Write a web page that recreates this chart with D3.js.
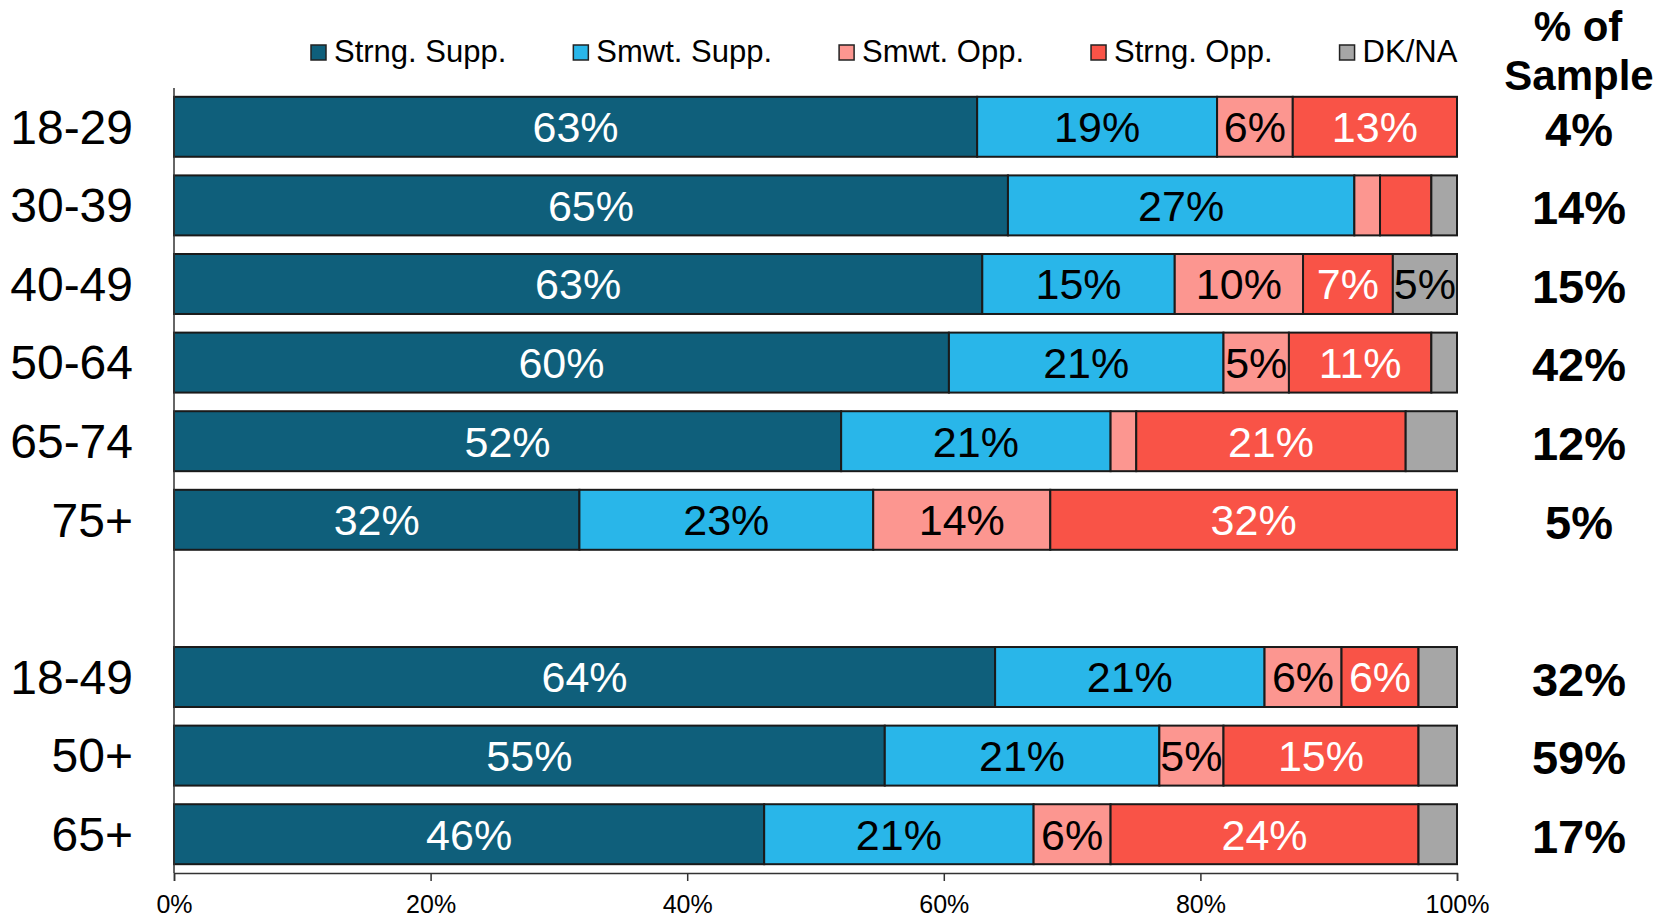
<!DOCTYPE html>
<html>
<head>
<meta charset="utf-8">
<script src="https://cdn.jsdelivr.net/npm/d3@7"></script>
<style>
  body { margin: 0; background: #fff; }
  svg { font-family: "Liberation Sans", Arial, sans-serif; }
</style>
</head>
<body>
<div id="chart"></div>
<script>
// Chart data (blank category = gap row)
var categories = ["18-29", "30-39", "40-49", "50-64", "65-74", "75+", "", "18-49", "50+", "65+"];
var seriesNames = ["Strng. Supp.", "Smwt. Supp.", "Smwt. Opp.", "Strng. Opp.", "DK/NA"];
var strongSupp = [62.6, 65.0, 63.0, 60.4, 52.0, 31.6, null, 64.0, 55.4, 46.0];
var smwtSupp   = [18.7, 27.0, 15.0, 21.4, 21.0, 22.9, null, 21.0, 21.4, 21.0];
var smwtOpp    = [5.9, 2.0, 10.0, 5.1, 2.0, 13.8, null, 6.0, 5.0, 6.0];
var strongOpp  = [12.8, 4.0, 7.0, 11.1, 21.0, 31.7, null, 6.0, 15.2, 24.0];
var dkna       = [0.0, 2.0, 5.0, 2.0, 4.0, 0.0, null, 3.0, 3.0, 3.0];
var sampleShare = [4, 14, 15, 42, 12, 5, null, 32, 59, 17];
var xTicks = [0, 20, 40, 60, 80, 100];

var colors = ["#0f5f7b", "#29b6e9", "#fc9690", "#f95347", "#a6a6a6"];
var labelColors = ["#fff", "#000", "#000", "#fff", "#000"];

var W = 1666, H = 919;

function drawChart() {
  var svg = d3.select("#chart")
              .append("svg")
              .attr("width", W)
              .attr("height", H);

  var xScale = d3.scaleLinear().domain([0, 100]).range([174, 1457]);
  // unique keys so the blank row still gets its own slot
  var yScale = d3.scaleBand()
                 .domain(categories.map(function(c, i) { return i; }))
                 .range([88, 873])
                 .paddingInner(0.237)
                 .paddingOuter(0.112);

  var seriesArrays = [strongSupp, smwtSupp, smwtOpp, strongOpp, dkna];

  // build rows of stacked segments
  var rows = [];
  categories.forEach(function(cat, i) {
    if (strongSupp[i] == null) return;
    var start = 0;
    var segs = seriesArrays.map(function(arr, s) {
      var seg = { s: s, x0: start, x1: start + arr[i], v: arr[i] };
      start += arr[i];
      return seg;
    });
    rows.push({ i: i, cat: cat, segs: segs });
  });

  var row = svg.selectAll(".row")
               .data(rows)
               .enter()
               .append("g")
               .attr("class", "row")
               .attr("transform", function(d) { return "translate(0," + yScale(d.i) + ")"; });

  row.selectAll("rect")
     .data(function(d) { return d.segs.filter(function(s) { return s.v > 0; }); })
     .enter()
     .append("rect")
     .attr("x", function(d) { return xScale(d.x0); })
     .attr("width", function(d) { return xScale(d.x1) - xScale(d.x0); })
     .attr("y", 0)
     .attr("height", yScale.bandwidth())
     .attr("fill", function(d) { return colors[d.s]; })
     .attr("stroke", "#1a1a1a")
     .attr("stroke-width", 2);

  row.selectAll(".seglabel")
     .data(function(d) { return d.segs.filter(function(s) { return Math.round(s.v) >= 5; }); })
     .enter()
     .append("text")
     .attr("class", "seglabel")
     .attr("x", function(d) { return (xScale(d.x0) + xScale(d.x1)) / 2; })
     .attr("y", yScale.bandwidth() / 2)
     .attr("dy", "0.36em")
     .attr("text-anchor", "middle")
     .style("font-size", "43px")
     .attr("fill", function(d) { return labelColors[d.s]; })
     .text(function(d) { return Math.round(d.v) + "%"; });

  // category labels
  row.append("text")
     .attr("x", 133)
     .attr("y", yScale.bandwidth() / 2)
     .attr("dy", "0.35em")
     .attr("text-anchor", "end")
     .style("font-size", "48px")
     .text(function(d) { return d.cat; });

  // % of sample column
  row.append("text")
     .attr("x", 1579)
     .attr("y", yScale.bandwidth() / 2)
     .attr("dy", "0.4em")
     .attr("text-anchor", "middle")
     .style("font-size", "47px")
     .style("font-weight", "bold")
     .text(function(d) { return sampleShare[d.i] + "%"; });

  svg.append("text")
     .attr("x", 1578).attr("y", 41)
     .attr("text-anchor", "middle")
     .style("font-size", "42px").style("font-weight", "bold")
     .text("% of");
  svg.append("text")
     .attr("x", 1579).attr("y", 90)
     .attr("text-anchor", "middle")
     .style("font-size", "42px").style("font-weight", "bold")
     .text("Sample");

  // x axis
  var xAxis = d3.axisBottom(xScale)
                .tickValues(xTicks)
                .tickSize(8)
                .tickPadding(14)
                .tickFormat(function(d) { return d + "%"; });
  var gx = svg.append("g")
              .attr("transform", "translate(0,873)")
              .call(xAxis);
  gx.selectAll("text").style("font-size", "25px").attr("fill", "#000")
    .style("font-family", "'Liberation Sans', Arial, sans-serif");
  gx.selectAll("line, path").attr("stroke", "#333").attr("stroke-width", 1.5);

  // y axis line
  svg.append("line")
     .attr("x1", 174).attr("x2", 174)
     .attr("y1", 88).attr("y2", 873)
     .attr("stroke", "#333")
     .attr("stroke-width", 1.5);

  // legend
  var legend = svg.append("g").attr("class", "legend");
  var lx = 311;
  seriesNames.forEach(function(name, s) {
    var item = legend.append("g").attr("transform", "translate(" + lx + ",0)");
    item.append("rect")
        .attr("x", 0).attr("y", 45)
        .attr("width", 15).attr("height", 15)
        .attr("fill", colors[s])
        .attr("stroke", "#222")
        .attr("stroke-width", 1.5);
    var t = item.append("text")
                .attr("x", 23).attr("y", 62)
                .style("font-size", "31px")
                .text(name);
    lx += 23 + t.node().getComputedTextLength() + 67;
  });
}

window.onload = function() {
  drawChart();
};
</script>
</body>
</html>
